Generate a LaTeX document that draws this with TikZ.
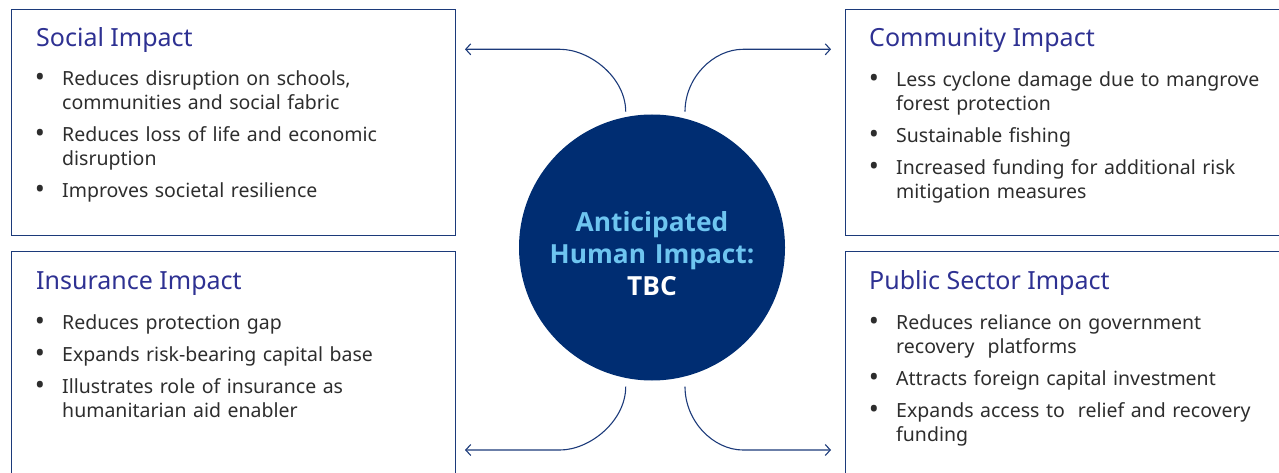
\documentclass[tikz,border=0pt]{standalone}
\usepackage{fontspec}
\setmainfont{Noto Sans}
\newfontfamily\hubfont{Open Sans}[BoldFont={* Bold}]
\usetikzlibrary{arrows.meta}
\definecolor{navy}{RGB}{0,45,114}
\definecolor{linec}{RGB}{28,58,122}
\definecolor{titlec}{RGB}{46,49,146}
\definecolor{bodyc}{RGB}{45,45,45}
\definecolor{lightb}{RGB}{110,197,240}
\tikzset{
 panel/.style={draw=linec, line width=1.4pt, inner sep=0pt, anchor=north west},
 ttl/.style={anchor=base west, inner sep=0pt, text=titlec, font=\fontsize{25}{30}\selectfont},
 itm/.style={anchor=base west, inner sep=0pt, text=bodyc, text width=400pt, align=left, font=\fontsize{19.5}{24}\selectfont},
 bul/.style={anchor=base, inner sep=0pt, text=bodyc, font=\fontsize{27}{24}\selectfont},
 conn/.style={draw=linec, line width=1.1pt, -{Straight Barb[length=5pt,width=11pt]}},
}
\begin{document}
\begin{tikzpicture}[x=1pt,y=-1pt]
\useasboundingbox (0,0) rectangle (1279,473);
\begin{scope}
\clip (0,0) rectangle (1279,473);
\node[panel, minimum width=444.5pt, minimum height=226pt] (tlbox) at (10.5,9) {};
\node[panel, minimum width=445pt, minimum height=226pt] (trbox) at (845,9) {};
\node[panel, minimum width=444.5pt, minimum height=240pt] (blbox) at (10.5,251) {};
\node[panel, minimum width=445pt, minimum height=240pt] (brbox) at (845,251) {};
\end{scope}

% hub
\node[circle, fill=navy, minimum size=266pt, inner sep=0pt] (hub) at (652,247.5) {};
\node[anchor=base, inner sep=0pt, text width=260pt, align=center,
      font=\hubfont\bfseries\fontsize{26.3}{31.7}\selectfont] (hubtext) at (652,231.7)
  {\textcolor{lightb}{Anticipated}\\\textcolor{lightb}{Human Impact:}\\\textcolor{white}{TBC}};

% connectors
\coordinate (c1s) at (625.7,111.7); \coordinate (c1e) at (465,49.3);
\coordinate (c2s) at (685,111.7);   \coordinate (c2e) at (831,49.3);
\coordinate (c3s) at (625.7,386.7); \coordinate (c3e) at (465,450);
\coordinate (c4s) at (685,386.7);   \coordinate (c4e) at (831,450);
\draw[conn] (c1s) .. controls (625.7,77.4) and (589.6,49.3) .. (560,49.3) -- (c1e);
\draw[conn] (c2s) .. controls (685,77.4) and (713.4,49.3) .. (743,49.3) -- (c2e);
\draw[conn] (c3s) .. controls (625.7,421.3) and (589.6,450) .. (560,450) -- (c3e);
\draw[conn] (c4s) .. controls (685,421.3) and (713.4,450) .. (743,450) -- (c4e);

% Social Impact
\node[ttl] (t1) at (36,47) {Social Impact};
\node[bul] (b11) at (40,87) {•};
\node[itm] (i11) at (62,86) {Reduces disruption on schools,\\communities and social fabric};
\node[bul] (b12) at (40,143) {•};
\node[itm] (i12) at (62,142) {Reduces loss of life and economic\\disruption};
\node[bul] (b13) at (40,199) {•};
\node[itm] (i13) at (62,198) {Improves societal resilience};

% Community Impact
\node[ttl] (t2) at (869,47) {Community Impact};
\node[bul] (b21) at (874,88) {•};
\node[itm] (i21) at (896,87) {Less cyclone damage due to mangrove\\forest protection};
\node[bul] (b22) at (874,144) {•};
\node[itm] (i22) at (896,143) {Sustainable fishing};
\node[bul] (b23) at (874,176) {•};
\node[itm] (i23) at (896,175) {Increased funding for additional risk\\mitigation measures};

% Insurance Impact
\node[ttl] (t3) at (36,289) {Insurance Impact};
\node[bul] (b31) at (40,330) {•};
\node[itm] (i31) at (62,329) {Reduces protection gap};
\node[bul] (b32) at (40,362) {•};
\node[itm] (i32) at (62,361) {Expands risk-bearing capital base};
\node[bul] (b33) at (40,394) {•};
\node[itm] (i33) at (62,393) {Illustrates role of insurance as\\humanitarian aid enabler};

% Public Sector Impact
\node[ttl] (t4) at (869,289) {Public Sector Impact};
\node[bul] (b41) at (874,330) {•};
\node[itm] (i41) at (896,329) {Reduces reliance on government\\recovery\ \ platforms};
\node[bul] (b42) at (874,386) {•};
\node[itm] (i42) at (896,385) {Attracts foreign capital investment};
\node[bul] (b43) at (874,418) {•};
\node[itm] (i43) at (896,417) {Expands access to\ \ relief and recovery\\funding};
\end{tikzpicture}
\end{document}
